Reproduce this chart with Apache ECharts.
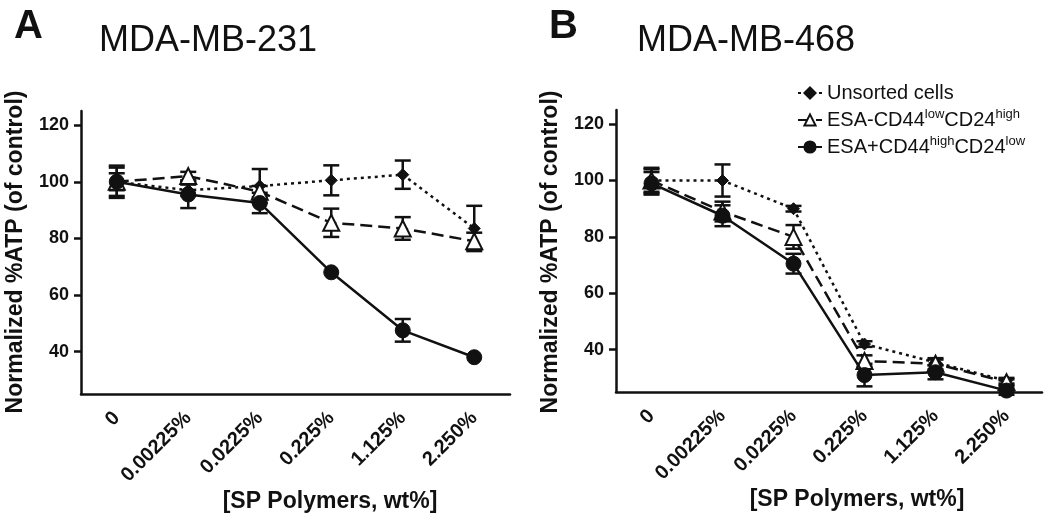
<!DOCTYPE html>
<html>
<head>
<meta charset="utf-8">
<script src="https://cdn.jsdelivr.net/npm/echarts@6/dist/echarts.min.js"></script>
<style>
html,body{margin:0;padding:0;background:#fff;}
#chart{width:1050px;height:521px;}
</style>
</head>
<body>
<div id="chart"></div>
<script>
// ---- Data ----
const categories = ['0', '0.00225%', '0.0225%', '0.225%', '1.125%', '2.250%'];
const seriesNames = ['Unsorted cells', 'ESA-CD44lowCD24high', 'ESA+CD44highCD24low'];
const yTicks = [40, 60, 80, 100, 120];

// Panel A: MDA-MB-231
const aUnsorted = [100, 97, 98.5, 100.5, 102.5, 83.5];
const aUnsortedErr = [5, 2, 6, 5.3, 5, 8];
const aLow = [100, 102, 96.5, 85.5, 83.5, 79];
const aLowErr = [3, 1.5, 2, 5, 4, 3];
const aHigh = [100, 95.5, 92.5, 68, 47.5, 38];
const aHighErr = [5.7, 4.8, 3.6, 0, 4, 0];

// Panel B: MDA-MB-468
const bUnsorted = [100, 100, 90, 42, 35.5, 29];
const bUnsortedErr = [4.5, 5.7, 1, 1, 1, 1];
const bLow = [100, 89, 80, 36, 35, 28.5];
const bLowErr = [4, 3.5, 4.2, 2, 2, 1];
const bHigh = [99, 87.5, 70.5, 31, 32, 25.5];
const bHighErr = [4, 3.7, 3.5, 4, 2.5, 1.5];

const titleA = 'MDA-MB-231';
const titleB = 'MDA-MB-468';
const yTitle = 'Normalized %ATP (of control)';
const xTitle = '[SP Polymers, wt%]';

// ---- Styles ----
const FONT = 'Liberation Sans, Arial, sans-serif';
const INK = '#111';

const styles = [
  {symbol: 'diamond', symbolSize: 12, line: {type: [3, 4], width: 2.5}, item: {color: INK, borderColor: INK, borderWidth: 1}},
  {symbol: 'triangle', symbolSize: 16, line: {type: [12, 6], width: 2.5}, item: {color: '#fff', borderColor: INK, borderWidth: 2}},
  {symbol: 'circle', symbolSize: 15, line: {type: 'solid', width: 2.5}, item: {color: INK, borderColor: INK, borderWidth: 1}}
];

function errRender(params, api) {
  const x = api.value(0), lo = api.value(1), hi = api.value(2);
  const pLo = api.coord([x, lo]);
  const pHi = api.coord([x, hi]);
  const w = 8;
  const st = {stroke: INK, lineWidth: 2.5};
  return {
    type: 'group',
    children: [
      {type: 'line', shape: {x1: pHi[0], y1: pHi[1], x2: pLo[0], y2: pLo[1]}, style: st},
      {type: 'line', shape: {x1: pHi[0] - w, y1: pHi[1], x2: pHi[0] + w, y2: pHi[1]}, style: st},
      {type: 'line', shape: {x1: pLo[0] - w, y1: pLo[1], x2: pLo[0] + w, y2: pLo[1]}, style: st}
    ]
  };
}

function errData(vals, errs) {
  const out = [];
  vals.forEach((v, i) => { if (errs[i] > 0) out.push([i, v - errs[i], v + errs[i]]); });
  return out;
}

function panelSeries(idx, sets) {
  const res = [];
  sets.forEach((s, k) => {
    res.push({
      type: 'custom', name: seriesNames[k] + '_err', xAxisIndex: idx, yAxisIndex: idx,
      renderItem: errRender, data: errData(s[0], s[1]), encode: {x: 0, y: [1, 2]},
      z: 1, silent: true
    });
  });
  sets.forEach((s, k) => {
    const st = styles[k];
    res.push({
      type: 'line', name: seriesNames[k], xAxisIndex: idx, yAxisIndex: idx,
      data: s[0], symbol: st.symbol, symbolSize: st.symbolSize, showAllSymbol: true,
      lineStyle: {color: INK, width: st.line.width, type: st.line.type},
      itemStyle: st.item, z: 3 + k, animation: false
    });
  });
  return res;
}

function xAxisCfg(gi) {
  return {
    type: 'category', gridIndex: gi, data: categories, boundaryGap: true,
    axisLine: {onZero: false, lineStyle: {color: INK, width: 2.5}},
    axisTick: {alignWithLabel: true, length: 7, lineStyle: {color: INK, width: 2.5}},
    axisLabel: {rotate: 45, margin: 21, fontSize: 20, fontWeight: 'bold', color: INK, fontFamily: FONT, interval: 0},
    splitLine: {show: false}
  };
}
function yAxisCfg(gi) {
  return {
    type: 'value', gridIndex: gi, min: 25, max: 125,
    axisLine: {show: true, lineStyle: {color: INK, width: 2.5}},
    axisTick: {show: true, length: 7, customValues: yTicks, lineStyle: {color: INK, width: 2.5}},
    axisLabel: {customValues: yTicks, margin: 12, fontSize: 18, fontWeight: 'bold', color: INK, fontFamily: FONT},
    splitLine: {show: false}
  };
}

const legendRich = {
  n: {fontSize: 20, fontFamily: FONT, color: INK, lineHeight: 24},
  s: {fontSize: 13, fontFamily: FONT, color: INK, verticalAlign: 'top', lineHeight: 24, padding: [0, 0, 9, 0]}
};
const legendLabels = {
  'Unsorted cells': '{n|Unsorted cells}',
  'ESA-CD44lowCD24high': '{n|ESA-CD44}{s|low}{n|CD24}{s|high}',
  'ESA+CD44highCD24low': '{n|ESA+CD44}{s|high}{n|CD24}{s|low}'
};

function txt(x, y, text, size, weight, rot, align) {
  return {
    type: 'text', x: x, y: y, rotation: rot || 0,
    style: {text: text, fontSize: size, fontWeight: weight, fontFamily: FONT, fill: INK,
      align: align || 'left', verticalAlign: 'middle'}
  };
}

const chart = echarts.init(document.getElementById('chart'), null, {renderer: 'canvas'});
chart.setOption({
  animation: false,
  backgroundColor: '#fff',
  grid: [
    {left: 81, right: 540, top: 111, bottom: 127},
    {left: 616, right: 8, top: 110, bottom: 129}
  ],
  xAxis: [xAxisCfg(0), xAxisCfg(1)],
  yAxis: [yAxisCfg(0), yAxisCfg(1)],
  legend: {
    data: seriesNames, orient: 'vertical', left: 792, top: 78, itemGap: 5,
    itemWidth: 24, itemHeight: 14, selectedMode: false,
    formatter: name => legendLabels[name],
    textStyle: {rich: legendRich, color: INK}
  },
  graphic: [
    txt(14, 27, 'A', 40, 'bold'),
    txt(99, 41, titleA, 36, 'normal'),
    txt(549, 27, 'B', 40, 'bold'),
    txt(637, 41, titleB, 36, 'normal'),
    txt(16, 252, yTitle, 23, 'bold', Math.PI / 2, 'center'),
    txt(551, 252, yTitle, 23, 'bold', Math.PI / 2, 'center'),
    txt(330, 502, xTitle, 23, 'bold', 0, 'center'),
    txt(857, 500, xTitle, 23, 'bold', 0, 'center')
  ],
  series: [].concat(
    panelSeries(0, [[aUnsorted, aUnsortedErr], [aLow, aLowErr], [aHigh, aHighErr]]),
    panelSeries(1, [[bUnsorted, bUnsortedErr], [bLow, bLowErr], [bHigh, bHighErr]])
  )
});
</script>
</body>
</html>
